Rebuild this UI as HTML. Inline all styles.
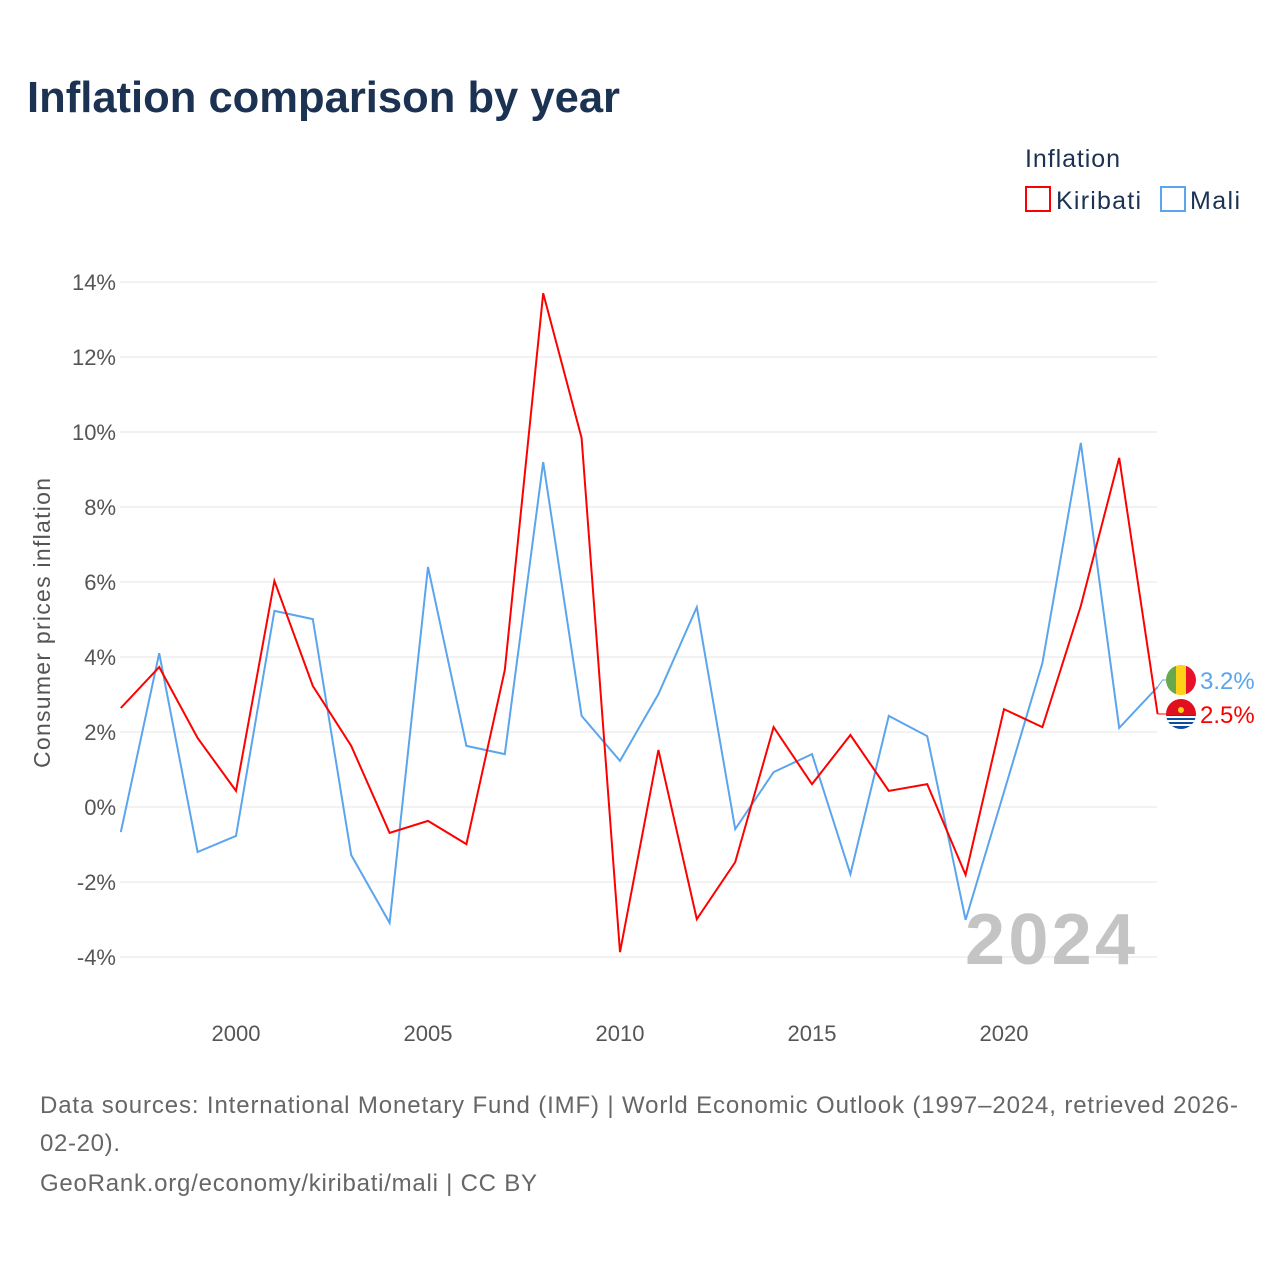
<!DOCTYPE html>
<html><head><meta charset="utf-8"><style>
body{margin:0;background:#fff;}
svg{display:block;font-family:"Liberation Sans",sans-serif;}
</style></head><body>
<svg id="c" width="1280" height="1280">
<text x="27" y="112" font-size="44" font-weight="bold" fill="#1b3252" textLength="593" lengthAdjust="spacingAndGlyphs">Inflation comparison by year</text>
<text x="1025" y="167" font-size="25" fill="#1b3252" textLength="95">Inflation</text>
<g><rect x="1026" y="187" width="24" height="24" fill="none" stroke="#f00" stroke-width="2"/><text x="1056" y="209" font-size="25" fill="#1b3252" textLength="85">Kiribati</text></g>
<g><rect x="1161" y="187" width="24" height="24" fill="none" stroke="#5aa5ed" stroke-width="2"/><text x="1190" y="209" font-size="25" fill="#1b3252" textLength="50">Mali</text></g>
<g id="grid"></g><g id="lines"></g>
<text x="1135" y="964" font-size="72" font-weight="bold" fill="#c4c4c4" text-anchor="end" textLength="170">2024</text>
<text transform="translate(50,623) rotate(-90)" font-size="23" fill="#555" text-anchor="middle" textLength="290">Consumer prices inflation</text>
<text x="40" y="1113" font-size="24" fill="#666" textLength="1198">Data sources: International Monetary Fund (IMF) | World Economic Outlook (1997–2024, retrieved 2026-</text>
<text x="40" y="1151" font-size="24" fill="#666" textLength="80">02-20).</text>
<text x="40" y="1191" font-size="24" fill="#666" textLength="497">GeoRank.org/economy/kiribati/mali | CC BY</text>
</svg>
<script>
const years=[1997,1998,1999,2000,2001,2002,2003,2004,2005,2006,2007,2008,2009,2010,2011,2012,2013,2014,2015,2016,2017,2018,2019,2020,2021,2022,2023,2024];
const kiribati=[2.64,3.73,1.84,0.43,6.03,3.23,1.63,-0.69,-0.37,-0.99,3.65,13.7,9.84,-3.87,1.52,-2.99,-1.47,2.13,0.61,1.92,0.43,0.61,-1.81,2.61,2.13,5.36,9.31,2.48];
const mali=[-0.67,4.1,-1.2,-0.77,5.23,5.01,-1.28,-3.09,6.4,1.63,1.41,9.2,2.43,1.23,3.01,5.33,-0.59,0.93,1.41,-1.79,2.43,1.89,-3.01,0.4,3.84,9.71,2.11,3.2];
const yTicks=[-4,-2,0,2,4,6,8,10,12,14];
const xTicks=[2000,2005,2010,2015,2020];
const NS="http://www.w3.org/2000/svg";
const x=v=>120.8+(v-1997)*38.4;
const y=v=>807-v*37.5;
function mk(tag,at,parent){const e=document.createElementNS(NS,tag);for(const k in at)e.setAttribute(k,at[k]);parent.appendChild(e);return e;}
const grid=document.getElementById('grid'),lines=document.getElementById('lines');
yTicks.forEach(t=>{
 const l=mk('line',{x1:120,x2:1157,y1:y(t),y2:y(t),stroke:'#e6e6e6','stroke-width':1},grid);
 
 
 const tx=mk('text',{x:116,y:y(t)+8,'font-size':22,fill:'#555','text-anchor':'end'},grid);
 tx.textContent=t+'%';
 
 
});
xTicks.forEach(t=>{
 const tx=mk('text',{x:x(t),y:1041,'font-size':22,fill:'#555','text-anchor':'middle'},grid);
 tx.textContent=t;
 
 
});
function series(vals,color,name){
 const p=mk('polyline',{points:vals.map((v,i)=>x(years[i])+','+y(v)).join(' '),fill:'none',stroke:color,'stroke-width':2},lines);
 
 
}
series(mali,'#5aa5ed','mali-line');
series(kiribati,'#f00','kiribati-line');
const lastM=mali[mali.length-1],lastK=kiribati[kiribati.length-1];
const xe=x(years[years.length-1]);
const mY=Math.min(y(lastM),y(lastK)-34), kY=mY+34;
const c1=mk('polyline',{points:`${xe},${y(lastM)} ${xe+5},${mY} ${xe+10},${mY}`,fill:'none',stroke:'#5aa5ed','stroke-width':1},lines);


const c2=mk('polyline',{points:`${xe},${y(lastK)} ${xe},${kY} ${xe+10},${kY}`,fill:'none',stroke:'#f00','stroke-width':1},lines);


const fm=mk('g',{},lines);


const cm=mk('clipPath',{id:'cm'},fm);mk('circle',{cx:1181,cy:mY,r:15},cm);
[['#6aa84f',0],['#fcd116',1],['#e8112d',2]].forEach(([col,i])=>mk('rect',{x:1166+i*10,y:mY-15,width:10,height:30,fill:col,'clip-path':'url(#cm)'},fm));
const fk=mk('g',{},lines);


const ck=mk('clipPath',{id:'ck'},fk);mk('circle',{cx:1181,cy:kY,r:15},ck);
mk('rect',{x:1166,y:kY-15,width:30,height:16,fill:'#e0101e','clip-path':'url(#ck)'},fk);
mk('rect',{x:1166,y:kY+1,width:30,height:14,fill:'#0c4da2','clip-path':'url(#ck)'},fk);
[3,7,11].forEach(d=>mk('rect',{x:1166,y:kY+d-1,width:30,height:2,fill:'#fff','clip-path':'url(#ck)'},fk));
mk('circle',{cx:1181,cy:kY-4,r:3,fill:'#fcd116'},fk);
const lm=mk('text',{x:1200,y:mY+9,'font-size':24,fill:'#5aa5ed'},lines);lm.textContent=lastM.toFixed(1)+'%';


const lk=mk('text',{x:1200,y:kY+9,'font-size':24,fill:'#f00'},lines);lk.textContent=lastK.toFixed(1)+'%';


</script>
</body></html>
